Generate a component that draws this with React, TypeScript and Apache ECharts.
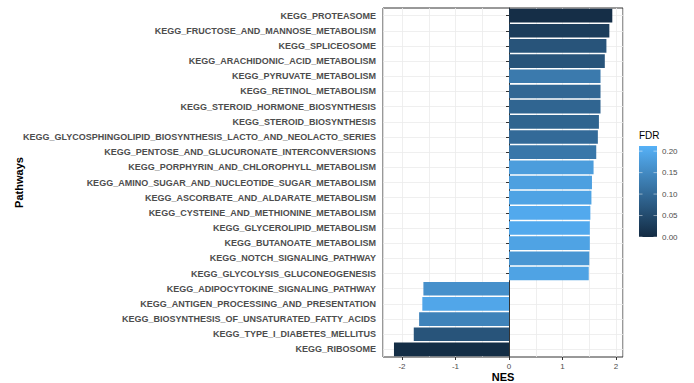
import React, { useEffect, useRef } from "react";
import * as echarts from "echarts";

const categories = [
  "KEGG_PROTEASOME",
  "KEGG_FRUCTOSE_AND_MANNOSE_METABOLISM",
  "KEGG_SPLICEOSOME",
  "KEGG_ARACHIDONIC_ACID_METABOLISM",
  "KEGG_PYRUVATE_METABOLISM",
  "KEGG_RETINOL_METABOLISM",
  "KEGG_STEROID_HORMONE_BIOSYNTHESIS",
  "KEGG_STEROID_BIOSYNTHESIS",
  "KEGG_GLYCOSPHINGOLIPID_BIOSYNTHESIS_LACTO_AND_NEOLACTO_SERIES",
  "KEGG_PENTOSE_AND_GLUCURONATE_INTERCONVERSIONS",
  "KEGG_PORPHYRIN_AND_CHLOROPHYLL_METABOLISM",
  "KEGG_AMINO_SUGAR_AND_NUCLEOTIDE_SUGAR_METABOLISM",
  "KEGG_ASCORBATE_AND_ALDARATE_METABOLISM",
  "KEGG_CYSTEINE_AND_METHIONINE_METABOLISM",
  "KEGG_GLYCEROLIPID_METABOLISM",
  "KEGG_BUTANOATE_METABOLISM",
  "KEGG_NOTCH_SIGNALING_PATHWAY",
  "KEGG_GLYCOLYSIS_GLUCONEOGENESIS",
  "KEGG_ADIPOCYTOKINE_SIGNALING_PATHWAY",
  "KEGG_ANTIGEN_PROCESSING_AND_PRESENTATION",
  "KEGG_BIOSYNTHESIS_OF_UNSATURATED_FATTY_ACIDS",
  "KEGG_TYPE_I_DIABETES_MELLITUS",
  "KEGG_RIBOSOME",
];

const nesValues = [
  1.93, 1.875, 1.82, 1.79, 1.71, 1.71, 1.71, 1.68, 1.66, 1.63, 1.58, 1.55,
  1.54, 1.52, 1.51, 1.51, 1.5, 1.49, -1.6, -1.62, -1.68, -1.78, -2.15,
];

const fdrValues = [
  0.005, 0.028, 0.065, 0.065, 0.125, 0.095, 0.092, 0.09, 0.1, 0.12, 0.18,
  0.185, 0.19, 0.2, 0.2, 0.19, 0.17, 0.19, 0.16, 0.195, 0.14, 0.065, 0.004,
];

const xTickValues = [-2, -1, 0, 1, 2];
const legendTicks = [0, 0.05, 0.1, 0.15, 0.2];
const fdrMin = 0;
const fdrMax = 0.212;
const lowColor = "#132B43";
const highColor = "#56B1F7";

export default function App() {
  const ref = useRef<HTMLDivElement>(null);

  useEffect(() => {
    if (!ref.current) return;
    const chart = echarts.init(ref.current, null, { renderer: "svg" });

    const data = categories.map((c, i) => [nesValues[i], c, fdrValues[i]]);

    const barX = 639;
    const barTop = 146;
    const barW = 18;
    const barH = 91;
    const yOf = (v: number) => barTop + barH - ((v - fdrMin) / (fdrMax - fdrMin)) * barH;

    const graphics: any[] = [
      {
        type: "text",
        left: barX,
        top: 130,
        style: { text: "FDR", fontSize: 10, fill: "#000", fontFamily: "Liberation Sans, Arial, sans-serif" },
      },
      {
        type: "rect",
        shape: { x: barX, y: barTop, width: barW, height: barH },
        style: {
          fill: new echarts.graphic.LinearGradient(0, 0, 0, 1, [
            { offset: 0, color: highColor },
            { offset: 1, color: lowColor },
          ]),
        },
      },
    ];
    legendTicks.forEach((v) => {
      const y = yOf(v);
      graphics.push({
        type: "line",
        shape: { x1: barX, y1: y, x2: barX + 3.5, y2: y },
        style: { stroke: "#fff", lineWidth: 0.6, opacity: 0.8 },
      });
      graphics.push({
        type: "line",
        shape: { x1: barX + barW - 3.5, y1: y, x2: barX + barW, y2: y },
        style: { stroke: "#fff", lineWidth: 0.6, opacity: 0.8 },
      });
      graphics.push({
        type: "text",
        x: barX + barW + 5,
        y,
        style: {
          text: v.toFixed(2),
          fontSize: 8,
          fill: "#4D4D4D",
          verticalAlign: "middle",
          fontFamily: "Liberation Sans, Arial, sans-serif",
        },
      });
    });

    chart.setOption({
      animation: false,
      backgroundColor: "#fff",
      textStyle: { fontFamily: "Liberation Sans, Arial, sans-serif" },
      grid: {
        left: 383,
        right: 71,
        top: 8,
        bottom: 26,
        show: true,
        borderColor: "#333",
        borderWidth: 1,
        backgroundColor: "transparent",
        containLabel: false,
        outerBoundsMode: "none",
      },
      visualMap: {
        show: false,
        type: "continuous",
        dimension: 2,
        seriesIndex: 0,
        min: fdrMin,
        max: fdrMax,
        inRange: { color: [lowColor, highColor] },
      },
      xAxis: [
        {
          type: "value",
          min: -2.355,
          max: 2.13,
          minInterval: 0.5,
          maxInterval: 0.5,
          position: "bottom",
          axisLine: { show: false },
          axisTick: { show: false },
          axisLabel: { show: false },
          splitLine: { show: true, lineStyle: { color: "#EBEBEB", width: 0.8 } },
        },
        {
          type: "value",
          min: -2.355,
          max: 2.13,
          position: "bottom",
          name: "NES",
          nameLocation: "middle",
          nameGap: 14,
          nameMoveOverlap: false,
          nameTextStyle: { fontSize: 11, fontWeight: "bold", color: "#000" },
          axisLine: { show: false },
          axisTick: {
            show: true,
            length: 3,
            customValues: xTickValues,
            lineStyle: { color: "#333" },
          },
          axisLabel: {
            customValues: xTickValues,
            fontSize: 8,
            color: "#4D4D4D",
            margin: 5,
          },
          splitLine: { show: false },
        },
      ],
      yAxis: {
        type: "category",
        data: categories,
        inverse: true,
        name: "Pathways",
        nameLocation: "middle",
        nameGap: 359,
        nameMoveOverlap: false,
        nameRotate: 90,
        nameTextStyle: { fontSize: 11, fontWeight: "bold", color: "#000" },
        axisLine: { show: true, lineStyle: { color: "#333" } },
        axisTick: { show: true, length: 3, alignWithLabel: true, lineStyle: { color: "#333" } },
        axisLabel: {
          fontSize: 9,
          fontWeight: "bold",
          color: "#4D4D4D",
          margin: 7,
          interval: 0,
        },
        splitLine: { show: true, alignWithLabel: true, lineStyle: { color: "#EBEBEB", width: 0.8 } },
      },
      series: [
        {
          type: "bar",
          data,
          xAxisIndex: 0,
          encode: { x: 0, y: 1 },
          barCategoryGap: "10%",
        },
      ],
      graphic: graphics,
    });

    return () => chart.dispose();
  }, []);

  return (
    <div
      ref={ref}
      style={{ position: "fixed", left: 0, top: 0, width: 694, height: 383 }}
    />
  );
}
